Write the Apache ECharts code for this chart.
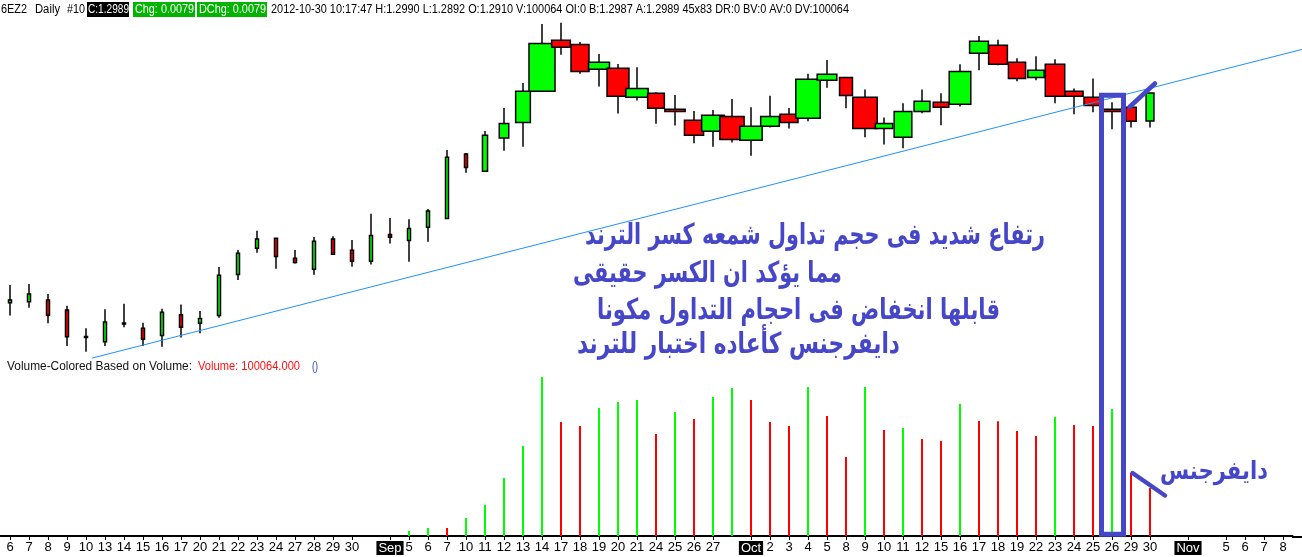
<!DOCTYPE html>
<html><head><meta charset="utf-8">
<script src="https://cdn.jsdelivr.net/npm/echarts@6.0.0/dist/echarts.min.js"></script>
<style>html,body{margin:0;padding:0;background:#fff;overflow:hidden}#c{width:1302px;height:557px}</style>
</head><body><div id="c"></div>
<script>
// ---- DATA ----
const categories = ['6','7','8','9','10','13','14','15','16','17','20','21','22','23','24','27','28','29','30','',
  'Sep','5','6','7','10','11','12','13','14','17','18','19','20','21','24','25','26','27','',
  'Oct','2','3','4','5','8','9','10','11','12','15','16','17','18','19','22','23','24','25','26','29','30','',
  'Nov','','5','6','7','8'];
const monthLabels = ['Sep','Oct','Nov'];
const opens  = [1.2397,1.2400,1.2405,1.2377,1.2302,1.2287,1.2340,1.2325,1.2305,1.2363,1.2339,1.2361,1.2477,1.2551,1.2579,1.2523,1.2492,1.2577,1.2545,1.2514,
  1.2590,1.2573,1.2610,1.2635,1.2817,1.2768,1.2862,1.2906,1.2994,1.3138,1.3126,1.3056,1.3059,1.2977,1.2988,1.2943,1.2912,1.2881,1.2923,
  1.2856,1.2895,1.2929,1.2918,1.3025,1.3033,1.2977,1.2889,1.2864,1.2937,1.2963,1.2957,1.3101,1.3124,1.3076,1.3033,1.3070,1.2994,1.2977,1.2943,1.2949,1.2910];
const highs  = [1.2447,1.2450,1.2422,1.2389,1.2325,1.2379,1.2394,1.2341,1.2380,1.2392,1.2374,1.2498,1.2546,1.2600,1.2580,1.2546,1.2583,1.2585,1.2574,1.2648,
  1.2636,1.2633,1.2662,1.2828,1.2819,1.2882,1.2947,1.3017,1.3184,1.3187,1.3133,1.3099,1.3071,1.3062,1.2991,1.2983,1.2938,1.2941,1.2972,
  1.2949,1.2981,1.2947,1.3043,1.3082,1.3034,1.2999,1.2920,1.2960,1.2999,1.2988,1.3070,1.3150,1.3139,1.3087,1.3093,1.3084,1.3002,1.3030,1.2963,1.2950,1.2990];
const lows   = [1.2361,1.2383,1.2339,1.2275,1.2259,1.2275,1.2328,1.2275,1.2273,1.2299,1.2311,1.2355,1.2461,1.2538,1.2493,1.2508,1.2476,1.2533,1.2499,1.2505,
  1.2564,1.2513,1.2569,1.2634,1.2764,1.2766,1.2826,1.2837,1.2993,1.3097,1.3043,1.3007,1.2931,1.2968,1.2902,1.2897,1.2847,1.2837,1.2849,
  1.2812,1.2892,1.2889,1.2909,1.3004,1.2946,1.2864,1.2844,1.2833,1.2932,1.2898,1.2951,1.3053,1.3067,1.3022,1.3025,1.2960,1.2929,1.2935,1.2887,1.2892,1.2892];
const closes = [1.2405,1.2422,1.2362,1.2301,1.2301,1.2343,1.2339,1.2294,1.2370,1.2328,1.2353,1.2475,1.2537,1.2577,1.2528,1.2511,1.2571,1.2534,1.2514,1.2587,
  1.2582,1.2607,1.2656,1.2808,1.2779,1.2870,1.2903,1.2994,1.3129,1.3118,1.3050,1.3076,1.2980,1.3002,1.2946,1.2937,1.2870,1.2926,1.2858,
  1.2895,1.2923,1.2906,1.3028,1.3042,1.2982,1.2889,1.2903,1.2937,1.2966,1.2949,1.3050,1.3135,1.3070,1.3030,1.3053,1.2980,1.2980,1.2954,1.2937,1.2909,1.2989];
const volumes = [null,null,null,null,null,null,null,null,null,null,null,null,null,null,null,null,null,null,null,null,
  null,10400,16700,16500,37500,64600,120900,187600,331500,237700,229300,266900,279400,283600,212700,258500,243900,289800,308600,
  283600,237700,229300,310700,250200,164700,310700,221000,225200,202200,198100,275200,239800,239500,218900,208500,248100,231400,229300,264800,131400,100064];
// trend line anchors: [category position, price]
const trendLine = [[4.32, 1.2241], [68.0, 1.3112]];
const headerTexts = ['6EZ2','Daily','#10','C:1.2989','Chg: 0.0079','DChg: 0.0079',
  '2012-10-30 10:17:47 H:1.2990 L:1.2892 O:1.2910 V:100064 OI:0 B:1.2987 A:1.2989 45x83 DR:0 BV:0 AV:0 DV:100064'];
const volumeTitle = ['Volume-Colored Based on Volume:', 'Volume: 100064.000', '()'];
const noteLines = ['رتفاع شديد فى حجم تداول شمعه كسر الترند','مما يؤكد ان الكسر حقيقى','قابلها انخفاض فى احجام التداول مكونا','دايفرجنس كأعاده اختبار للترند'];
const divergenceLabel = 'دايفرجنس';

// ---- CHART ----
const chart = echarts.init(document.getElementById('c'), null, {renderer:'canvas', width:1302, height:557});
const mctx = document.createElement('canvas').getContext('2d');
function tw(str, font){ mctx.font = font; return mctx.measureText(str).width; }
function fitText(str, x, y, w, font, color, sy){
  return {type:'text', x:x, y:y, scaleX: w / tw(str, font), scaleY: sy || 1, z:100,
    style:{text:str, font:font, fill:color, textAlign:'left', textVerticalAlign:'middle', align:'left', verticalAlign:'middle'}};
}
const candleData = opens.map((o, i) => [i, o, closes[i], lows[i], highs[i], volumes[i] == null ? 0 : volumes[i]]);
const volData = categories.map((_, i) => {
  const v = volumes[i];
  if (v == null) return '-';
  const p = i > 0 ? volumes[i-1] : null;
  return {value: v, itemStyle: {color: (p == null || v > p) ? '#00ff00' : '#ff0000'}};
});
const AX_FONT = 'Liberation Sans';
const HF = '12px "Liberation Sans"';
const BLUE = '#4646c8';
const AR_FONT = 'bold 26px "DejaVu Sans"';

const graphics = [
  {type:'rect', z:99, shape:{x:87, y:2, width:42, height:15}, style:{fill:'#000'}},
  {type:'rect', z:99, shape:{x:133, y:2, width:62, height:15}, style:{fill:'#00b400'}},
  {type:'rect', z:99, shape:{x:197, y:2, width:70, height:15}, style:{fill:'#00b400'}},
  fitText(headerTexts[0], 1, 9.5, 26, HF, '#000'),
  fitText(headerTexts[1], 35, 9.5, 25, HF, '#000'),
  fitText(headerTexts[2], 67, 9.5, 18, HF, '#000'),
  fitText(headerTexts[3], 88, 9.5, 41, HF, '#fff'),
  fitText(headerTexts[4], 135, 9.5, 59, HF, '#fff'),
  fitText(headerTexts[5], 199, 9.5, 67, HF, '#fff'),
  fitText(headerTexts[6], 271, 9.5, 578, HF, '#000'),
  fitText(volumeTitle[0], 7, 367, 185, HF, '#111'),
  fitText(volumeTitle[1], 198, 367, 102, HF, '#ff1010'),
  fitText(volumeTitle[2], 312, 367, 6, HF, '#2040a0'),
  fitText(noteLines[0], 585, 236, 460, AR_FONT, BLUE, 1.12),
  fitText(noteLines[1], 573, 274, 269, AR_FONT, BLUE, 1.12),
  fitText(noteLines[2], 597, 311, 403, AR_FONT, BLUE, 1.12),
  fitText(noteLines[3], 577, 345, 323, AR_FONT, BLUE, 1.12),
  fitText(divergenceLabel, 1160, 472, 108, 'bold 23px "DejaVu Sans"', BLUE, 1.1),
  {type:'rect', z:101, shape:{x:1101.5, y:95.3, width:22, height:439}, style:{fill:'none', stroke:BLUE, lineWidth:5}},
  {type:'line', z:101, shape:{x1:1129.5, y1:107, x2:1155, y2:83.5}, style:{stroke:BLUE, lineWidth:4.5, lineCap:'round'}},
  {type:'line', z:101, shape:{x1:1132.5, y1:473, x2:1165, y2:495.5}, style:{stroke:BLUE, lineWidth:4.5, lineCap:'round'}},
  {type:'line', z:50, shape:{x1:1292, y1:537, x2:1302, y2:537}, style:{stroke:'#000', lineWidth:2}}
];

chart.setOption({
  animation: false,
  backgroundColor: '#fff',
  grid: [
    {left:0.5, right:9.5, top:9.36, height:354.4, containLabel:false, outerBoundsMode:'none'},
    {left:0.5, right:9.5, top:368.13, height:167.87, containLabel:false, outerBoundsMode:'none'},
    {left:0.5, right:0, top:9.36, height:354.4, containLabel:false, outerBoundsMode:'none'}
  ],
  xAxis: [
    {type:'category', gridIndex:0, data:categories, show:false, boundaryGap:true},
    {type:'category', gridIndex:1, data:categories, boundaryGap:true, offset:1,
      axisLine:{show:true, lineStyle:{color:'#000', width:2}},
      axisTick:{show:true, alignWithLabel:true, length:4, interval:(i, v) => v !== '', lineStyle:{color:'#000', width:1}},
      axisLabel:{interval:0, hideOverlap:false, margin:4, color:'#000', fontFamily:AX_FONT, fontSize:13,
        formatter:(v) => monthLabels.includes(v) ? '{m|' + v + '}' : v,
        rich:{m:{backgroundColor:'#000', color:'#fff', fontFamily:AX_FONT, fontSize:13, padding:[1,2,0,2]}}},
      splitLine:{show:false}},
    {type:'value', gridIndex:2, min:-0.5, max:68, show:false, splitLine:{show:false}}
  ],
  yAxis: [
    {type:'value', gridIndex:0, min:1.2225, max:1.3225, show:false, splitLine:{show:false}},
    {type:'value', gridIndex:1, min:0, max:350000, show:false, splitLine:{show:false}},
    {type:'value', gridIndex:2, min:1.2225, max:1.3225, show:false, splitLine:{show:false}}
  ],
  series: [
    {type:'custom', name:'6EZ2', xAxisIndex:0, yAxisIndex:0, data:candleData, z:3,
      encode:{x:0, y:[1,2,3,4]},
      renderItem:function(params, api){
        const i = api.value(0), o = api.value(1), c = api.value(2), l = api.value(3), h = api.value(4);
        let v = api.value(5); if (isNaN(v)) v = 0;
        const pO = api.coord([i, o]), pC = api.coord([i, c]), pL = api.coord([i, l]), pH = api.coord([i, h]);
        const w = Math.max(3, v / 12750);
        const x = Math.round(pO[0]);
        const top = Math.min(pO[1], pC[1]), bot = Math.max(pO[1], pC[1]);
        return {type:'group', children:[
          {type:'line', shape:{x1:x, y1:pH[1], x2:x, y2:pL[1]}, style:{stroke:'#000', lineWidth:1.5}},
          {type:'rect', shape:{x:x - w/2, y:top, width:w, height:Math.max(bot - top, 1)},
            style:{fill: c >= o ? '#00ff00' : '#ff0000', stroke:'#000', lineWidth:1.5}}
        ]};
      }},
    {type:'line', name:'trend', xAxisIndex:2, yAxisIndex:2, data:trendLine, symbol:'none', clip:false, silent:true, z:4,
      lineStyle:{color:'#1e90ff', width:1}},
    {type:'bar', name:'Volume', xAxisIndex:1, yAxisIndex:1, data:volData, barWidth:2, z:3}
  ],
  graphic: graphics
});
</script>
</body></html>
